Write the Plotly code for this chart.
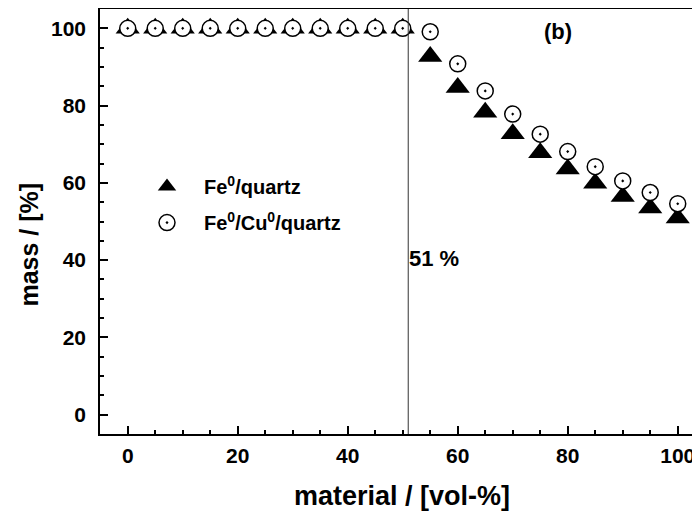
import plotly.graph_objects as go

x_vals = [0, 5, 10, 15, 20, 25, 30, 35, 40, 45, 50, 55, 60, 65, 70, 75, 80, 85, 90, 95, 100]
fe_quartz = [100, 100, 100, 100, 100, 100, 100, 100, 100, 100, 100,
             92.7, 84.7, 78.3, 72.7, 67.8, 63.6, 59.9, 56.5, 53.5, 50.9]
fe_cu_quartz = [100, 100, 100, 100, 100, 100, 100, 100, 100, 100, 100,
                99.1, 90.8, 83.8, 77.8, 72.6, 68.1, 64.2, 60.5, 57.5, 54.6]
threshold = 51
threshold_label = "51 %"
panel_label = "(b)"
x_title = "material / [vol-%]"
y_title = "mass / [%]"
series_names = ["Fe<sup>0</sup>/quartz", "Fe<sup>0</sup>/Cu<sup>0</sup>/quartz"]

FONT = "Arial, 'Liberation Sans', sans-serif"

fig = go.Figure()
fig.add_trace(go.Scatter(
    x=x_vals, y=fe_quartz, mode="markers", name=series_names[0],
    legendgroup="a",
    marker=dict(symbol="triangle-up", size=21, color="black",
                line=dict(color="black", width=0)),
))
fig.add_trace(go.Scatter(
    x=x_vals, y=fe_cu_quartz, mode="markers", name=series_names[1],
    legendgroup="b",
    marker=dict(symbol="circle-dot", size=16, color="white",
                line=dict(color="black", width=1.5)),
))

fig.add_shape(type="line", x0=threshold, x1=threshold, xref="x",
              y0=0, y1=1, yref="y domain",
              line=dict(color="#333333", width=1))

fig.add_annotation(x=threshold, y=40.4, xref="x", yref="y", text=threshold_label,
                   showarrow=False, xanchor="left", yanchor="middle", xshift=-1,
                   font=dict(family=FONT, size=22, color="black", weight="bold"))
fig.add_annotation(x=78.2, y=99.1, xref="x", yref="y", text=panel_label,
                   showarrow=False, xanchor="center", yanchor="middle",
                   font=dict(family=FONT, size=22, color="black", weight="bold"))
fig.add_annotation(x=-0.119, y=0.4447, xref="paper", yref="paper", text=y_title,
                   showarrow=False, textangle=-90, xanchor="center", yanchor="middle",
                   font=dict(family=FONT, size=25, color="black", weight="bold"))
fig.add_annotation(x=0.504, y=-0.1459, xref="paper", yref="paper", text=x_title,
                   showarrow=False, xanchor="center", yanchor="middle",
                   font=dict(family=FONT, size=27, color="black", weight="bold"))

axis_common = dict(
    showgrid=False, zeroline=False, showline=True, linecolor="black", linewidth=1.5,
    ticks="inside", ticklen=8, tickwidth=1.5, tickcolor="black", automargin=False,
    tickfont=dict(family=FONT, size=21, color="black", weight="bold"),
    minor=dict(ticks="inside", ticklen=4, tickwidth=1.5, tickcolor="black", dtick=5, showgrid=False),
)

fig.update_xaxes(range=[-5.04, 104.05], dtick=20, tick0=0, mirror=True,
                 ticklabelstandoff=2, **axis_common)
fig.update_yaxes(range=[-5, 105], dtick=20, tick0=0, mirror=False,
                 ticklabelstandoff=8, **axis_common)

fig.update_layout(
    width=692, height=512,
    margin=dict(l=92, r=0, t=1, b=86, autoexpand=False),
    paper_bgcolor="white", plot_bgcolor="white",
    showlegend=True,
    legend=dict(x=0.05, y=0.628, xanchor="left", yanchor="top",
                bgcolor="rgba(0,0,0,0)", borderwidth=0,
                itemwidth=64, tracegroupgap=7,
                font=dict(family=FONT, size=20, color="black", weight="bold")),
)

fig.write_html("out.html")
